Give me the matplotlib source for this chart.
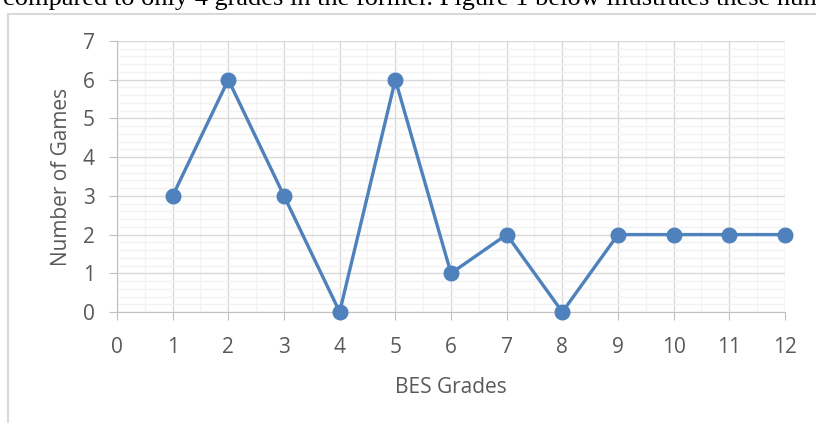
import matplotlib.pyplot as plt
from matplotlib.patches import Rectangle
from matplotlib.ticker import MultipleLocator

grades = [1, 2, 3, 4, 5, 6, 7, 8, 9, 10, 11, 12]
games = [3, 6, 3, 0, 6, 1, 2, 0, 2, 2, 2, 2]

if __name__ == '__main__':
    plt.rcParams['font.family'] = ['Open Sans', 'DejaVu Sans']
    fig = plt.figure(figsize=(8.16, 4.23), dpi=100)

    # bit of the document text above the chart
    fig.text(0.004, 1 - 5 / 423, 'compared to only 4 grades in the former. Figure 1 below illustrates these num',
             family='Liberation Serif', fontsize=19, color='black', va='baseline')
    # chart area border
    fig.patches.append(Rectangle((8 / 816, -0.1), 1.2, 1 - 14 / 423 + 0.1, transform=fig.transFigure,
                                 fill=False, edgecolor='#d9d9d9', linewidth=1.5))

    ax = fig.add_axes([117 / 816, 1 - 312 / 423, (785 - 117) / 816, (312 - 41) / 423])
    ax.plot(grades, games, '-o', color='#4f81bd', linewidth=2.4, markersize=10.5, clip_on=False, zorder=3)

    ax.set_xlim(0, 12)
    ax.set_ylim(0, 7)
    ax.xaxis.set_major_locator(MultipleLocator(1))
    ax.xaxis.set_minor_locator(MultipleLocator(0.5))
    ax.yaxis.set_major_locator(MultipleLocator(1))
    ax.yaxis.set_minor_locator(MultipleLocator(0.2))
    ax.grid(which='major', color='#d9d9d9', linewidth=1)
    ax.grid(which='minor', color='#f2f2f2', linewidth=1)
    ax.set_axisbelow(True)
    for side in ['top', 'right']:
        ax.spines[side].set_visible(False)
    for side in ['left', 'bottom']:
        ax.spines[side].set_color('#bfbfbf')
    ax.tick_params(which='major', length=6, color='#bfbfbf', labelsize=15, labelcolor='#595959')
    ax.tick_params(axis='x', pad=12)
    ax.tick_params(axis='y', pad=10)
    ax.tick_params(which='minor', length=0)

    ax.set_xlabel('BES Grades', fontsize=15, color='#595959', labelpad=14)
    ax.set_ylabel('Number of Games', fontsize=15, color='#595959', labelpad=8)

    plt.savefig('out.png', dpi=100)
